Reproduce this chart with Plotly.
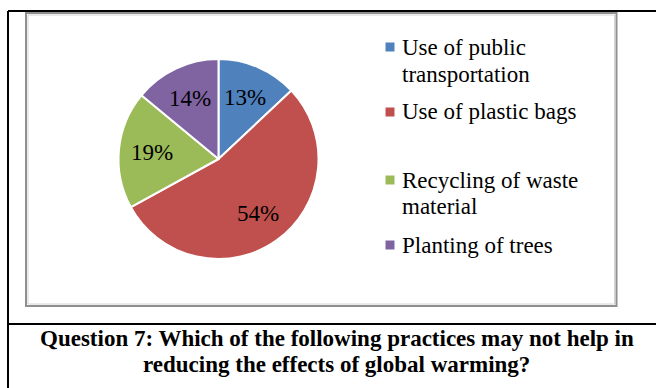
import math
import plotly.graph_objects as go

# Survey answers (share of respondents, %)
categories = [
    "Use of public transportation",
    "Use of plastic bags",
    "Recycling of waste material",
    "Planting of trees",
]
legend_lines = [
    ["Use of public", "transportation"],
    ["Use of plastic bags"],
    ["Recycling of waste", "material"],
    ["Planting of trees"],
]
values = [13, 54, 19, 14]
colors = ["#4F81BD", "#C0504D", "#9BBB59", "#8064A2"]
caption_lines = [
    "Question 7: Which of the following practices may not help in",
    "reducing the effects of global warming?",
]

W, H = 656, 388
SERIF = "Liberation Serif, Times New Roman, serif"


def px(x):
    return x / W


def py(y):
    return 1 - y / H


# pie placement (pixels)
cx, cy, r = 218.5, 159.0, 100.0

fig = go.Figure(
    go.Pie(
        labels=categories,
        values=values,
        sort=False,
        direction="clockwise",
        rotation=0,
        marker=dict(colors=colors, line=dict(color="white", width=2)),
        textinfo="none",
        hoverinfo="label+percent",
        showlegend=False,
        domain=dict(x=[px(cx - r), px(cx + r)], y=[py(cy + r), py(cy - r)]),
    )
)

annotations = []

# percentage labels at the middle angle of each slice
total = sum(values)
cum = 0.0
for v in values:
    mid = (cum + v / 2) / total * 2 * math.pi
    cum += v
    lx = cx + 0.67 * r * math.sin(mid)
    ly = cy - 0.67 * r * math.cos(mid)
    annotations.append(dict(
        x=px(lx), y=py(ly), xref="paper", yref="paper",
        text=f"{round(v / total * 100)}%", showarrow=False,
        xanchor="center", yanchor="middle",
        font=dict(family=SERIF, size=23, color="black"),
    ))

# legend: colored square + wrapped label lines
shapes = []
legend_rows = [[47.0, 74.0], [112.0], [180.0, 206.0], [245.0]]
for col, lines, ys in zip(colors, legend_lines, legend_rows):
    sq = ys[0]
    shapes.append(dict(
        type="rect", xref="paper", yref="paper",
        x0=px(385.5), x1=px(394.5), y0=py(sq + 4.5), y1=py(sq - 4.5),
        fillcolor=col, line=dict(width=0),
    ))
    for txt, yy in zip(lines, ys):
        annotations.append(dict(
            x=px(400), y=py(yy), xref="paper", yref="paper",
            text=txt, showarrow=False, xanchor="left", yanchor="middle",
            font=dict(family=SERIF, size=23, color="black"),
        ))

# caption below the chart
for txt, yy in zip(caption_lines, [338.0, 364.0]):
    annotations.append(dict(
        x=px(336.5), y=py(yy), xref="paper", yref="paper",
        text=f"<b>{txt}</b>", showarrow=False, xanchor="center", yanchor="middle",
        font=dict(family=SERIF, size=23, color="black"),
    ))

# chart area frame (gray) and table frame (black)
shapes.append(dict(
    type="rect", xref="paper", yref="paper",
    x0=px(26), x1=px(616.5), y0=py(306), y1=py(13),
    line=dict(color="#8f8f8f", width=2), fillcolor="rgba(0,0,0,0)",
))
shapes.append(dict(
    type="rect", xref="paper", yref="paper",
    x0=px(28), x1=px(614.5), y0=py(304), y1=py(15),
    line=dict(color="#d4d4d4", width=1), fillcolor="rgba(0,0,0,0)",
))
for (x0, y0, x1, y1) in [(8, 11, W, 11), (8, 11, 8, H), (8, 324, W, 324)]:
    shapes.append(dict(
        type="line", xref="paper", yref="paper",
        x0=px(x0), y0=py(y0), x1=px(x1), y1=py(y1),
        line=dict(color="black", width=2),
    ))

fig.update_layout(
    width=W, height=H,
    margin=dict(l=0, r=0, t=0, b=0),
    paper_bgcolor="white", plot_bgcolor="white",
    annotations=annotations, shapes=shapes,
    showlegend=False,
)

fig.write_html("out.html")
